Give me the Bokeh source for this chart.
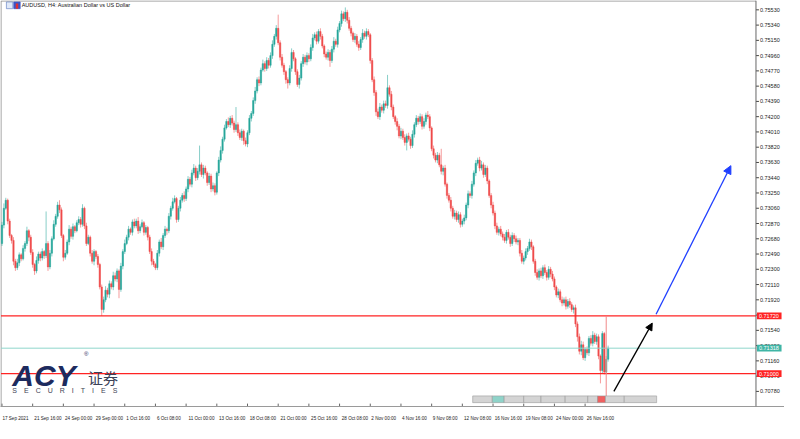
from bokeh.plotting import figure
from bokeh.models import (Range1d, FixedTicker, Span, Arrow, NormalHead, ColumnDataSource)
from bokeh.core.properties import value
from bokeh.embed import file_html
from bokeh.resources import INLINE

# ---------------- data ----------------
symbol_title = "AUDUSD, H4:  Australian Dollar vs US Dollar"
first_open = 0.7262
closes = [
    0.7285, 0.7306, 0.7316, 0.7290, 0.7272, 0.7266, 0.7240, 0.7232, 0.7238, 0.7248,
    0.7243, 0.7256, 0.7262, 0.7278, 0.7270, 0.7251, 0.7236, 0.7228, 0.7241, 0.7249,
    0.7244, 0.7252, 0.7247, 0.7262, 0.7233, 0.7250, 0.7268, 0.7286, 0.7296, 0.7310,
    0.7304, 0.7272, 0.7245, 0.7250, 0.7264, 0.7280, 0.7271, 0.7283, 0.7278, 0.7288,
    0.7292, 0.7286, 0.7306, 0.7284, 0.7262, 0.7270, 0.7250, 0.7240, 0.7252, 0.7246,
    0.7236, 0.7208, 0.7180, 0.7192, 0.7204, 0.7199, 0.7212, 0.7208, 0.7222, 0.7218,
    0.7228, 0.7205, 0.7234, 0.7252, 0.7262, 0.7270, 0.7280, 0.7276, 0.7289, 0.7284,
    0.7290, 0.7278, 0.7283, 0.7288, 0.7276, 0.7282, 0.7270, 0.7252, 0.7240, 0.7236,
    0.7232, 0.7250, 0.7264, 0.7258, 0.7272, 0.7280, 0.7278, 0.7296, 0.7306, 0.7314,
    0.7318, 0.7292, 0.7306, 0.7316, 0.7322, 0.7318, 0.7330, 0.7342, 0.7336, 0.7350,
    0.7356, 0.7344, 0.7352, 0.7360, 0.7348, 0.7356, 0.7350, 0.7338, 0.7346, 0.7330,
    0.7334, 0.7326, 0.7350, 0.7366, 0.7378, 0.7392, 0.7406, 0.7414, 0.7410, 0.7418,
    0.7412, 0.7404, 0.7410, 0.7400, 0.7394, 0.7402, 0.7390, 0.7386, 0.7400, 0.7418,
    0.7424, 0.7440, 0.7452, 0.7466, 0.7462, 0.7478, 0.7486, 0.7480, 0.7490, 0.7484,
    0.7496, 0.7510, 0.7520, 0.7530, 0.7512, 0.7494, 0.7484, 0.7476, 0.7466, 0.7462,
    0.7480, 0.7500, 0.7492, 0.7476, 0.7460, 0.7468, 0.7486, 0.7494, 0.7488, 0.7496,
    0.7492, 0.7506, 0.7518, 0.7522, 0.7514, 0.7526, 0.7520, 0.7508, 0.7498, 0.7494,
    0.7500, 0.7490, 0.7504, 0.7514, 0.7510, 0.7528, 0.7536, 0.7548, 0.7542, 0.7550,
    0.7540, 0.7530, 0.7524, 0.7516, 0.7520, 0.7510, 0.7506, 0.7516, 0.7524, 0.7520,
    0.7526, 0.7522, 0.7490, 0.7466, 0.7450, 0.7426, 0.7420, 0.7432, 0.7428, 0.7436,
    0.7434, 0.7456, 0.7448, 0.7432, 0.7420, 0.7414, 0.7408, 0.7396, 0.7402, 0.7394,
    0.7388, 0.7396, 0.7392, 0.7384, 0.7398, 0.7410, 0.7418, 0.7414, 0.7420, 0.7408,
    0.7414, 0.7422, 0.7420, 0.7406, 0.7380, 0.7372, 0.7366, 0.7372, 0.7360, 0.7352,
    0.7356, 0.7336, 0.7322, 0.7316, 0.7306, 0.7296, 0.7300, 0.7292, 0.7298, 0.7286,
    0.7290, 0.7294, 0.7310, 0.7324, 0.7322, 0.7336, 0.7350, 0.7362, 0.7366, 0.7356,
    0.7360, 0.7348, 0.7356, 0.7340, 0.7322, 0.7310, 0.7300, 0.7284, 0.7276, 0.7280,
    0.7274, 0.7270, 0.7266, 0.7276, 0.7270, 0.7262, 0.7272, 0.7268, 0.7264, 0.7266,
    0.7250, 0.7240, 0.7244, 0.7252, 0.7256, 0.7264, 0.7258, 0.7240, 0.7226, 0.7220,
    0.7228, 0.7222, 0.7232, 0.7226, 0.7220, 0.7230, 0.7224, 0.7218, 0.7208, 0.7198,
    0.7202, 0.7192, 0.7188, 0.7192, 0.7184, 0.7190, 0.7186, 0.7180, 0.7182, 0.7162,
    0.7146, 0.7128, 0.7136, 0.7120, 0.7130, 0.7126, 0.7144, 0.7138, 0.7148, 0.7140,
    0.7146, 0.7122, 0.7104, 0.7150, 0.7102, 0.7118, 0.7132,
]
wick_up_pips = [
    4, 6, 3, 2, 3, 2, 4, 3, 5, 3, 2, 4, 3, 5, 2, 3, 4, 2, 5, 3,
    3, 4, 2, 40, 3, 4, 3, 5, 3, 4, 6, 3, 2, 4, 3, 5, 3, 4, 2, 3,
    4, 3, 5, 2, 4, 3, 2, 4, 3, 2, 3, 2, 3, 4, 5, 3, 4, 3, 5, 4,
    3, 2, 4, 3, 5, 3, 4, 2, 3, 4, 3, 5, 3, 4, 2, 3, 2, 3, 4, 3,
    2, 4, 3, 5, 3, 4, 2, 4, 3, 5, 4, 2, 3, 4, 3, 5, 3, 4, 3, 4,
    5, 3, 4, 24, 3, 4, 3, 2, 4, 3, 4, 3, 2, 4, 5, 3, 4, 3, 5, 3,
    4, 3, 22, 3, 4, 3, 2, 4, 3, 4, 3, 4, 5, 3, 4, 3, 5, 3, 4, 3,
    4, 5, 3, 4, 17, 3, 4, 3, 2, 3, 4, 5, 3, 2, 3, 4, 3, 4, 3, 4,
    3, 4, 5, 3, 4, 3, 4, 3, 2, 3, 4, 3, 4, 5, 3, 4, 3, 4, 3, 6,
    3, 4, 3, 2, 4, 3, 4, 3, 5, 3, 4, 3, 2, 3, 4, 3, 4, 5, 3, 4,
    4, 16, 3, 4, 3, 2, 4, 3, 4, 3, 4, 3, 4, 3, 5, 3, 4, 3, 4, 3,
    4, 3, 5, 3, 2, 4, 3, 4, 3, 20, 3, 4, 2, 3, 4, 3, 4, 3, 4, 3,
    3, 4, 3, 4, 3, 4, 3, 4, 3, 4, 5, 3, 4, 3, 2, 3, 4, 3, 4, 3,
    4, 3, 4, 3, 4, 3, 4, 3, 4, 3, 3, 4, 3, 4, 3, 4, 3, 2, 3, 4,
    3, 4, 3, 4, 3, 4, 3, 4, 3, 2, 4, 3, 4, 3, 4, 3, 4, 3, 3, 4,
    3, 4, 5, 4, 3, 4, 3, 4, 5, 3, 4, 3, 2, 3, 2, 4, 3,
]
wick_dn_pips = [
    3, 4, 2, 4, 3, 4, 5, 4, 3, 4, 3, 2, 4, 3, 5, 3, 4, 5, 3, 4,
    4, 3, 4, 3, 5, 3, 4, 2, 3, 3, 4, 3, 5, 3, 2, 4, 3, 4, 3, 2,
    3, 4, 3, 4, 3, 2, 4, 3, 5, 3, 4, 3, 8, 4, 3, 4, 5, 3, 4, 3,
    4, 11, 3, 4, 3, 2, 4, 3, 4, 3, 3, 4, 3, 2, 4, 3, 4, 3, 5, 3,
    3, 3, 4, 3, 4, 3, 5, 3, 4, 3, 2, 4, 3, 4, 3, 4, 3, 4, 3, 4,
    3, 4, 3, 4, 3, 5, 3, 4, 3, 4, 3, 4, 3, 4, 3, 4, 3, 2, 3, 4,
    3, 4, 3, 4, 3, 4, 5, 3, 4, 3, 4, 3, 4, 3, 4, 3, 2, 4, 3, 4,
    3, 4, 3, 4, 3, 4, 3, 4, 5, 7, 3, 4, 3, 4, 3, 5, 3, 4, 3, 4,
    4, 3, 4, 3, 4, 3, 4, 3, 4, 3, 4, 8, 3, 4, 3, 4, 3, 4, 3, 4,
    4, 3, 4, 3, 4, 3, 4, 3, 4, 3, 4, 3, 4, 3, 4, 5, 3, 4, 3, 4,
    3, 4, 3, 4, 3, 4, 5, 3, 4, 3, 4, 10, 3, 4, 3, 4, 3, 4, 3, 4,
    3, 4, 3, 4, 3, 4, 3, 4, 3, 4, 5, 3, 4, 3, 4, 3, 4, 3, 4, 4,
    3, 4, 3, 4, 3, 4, 3, 4, 3, 4, 3, 4, 3, 4, 3, 4, 3, 4, 3, 4,
    3, 4, 3, 4, 3, 4, 3, 4, 3, 4, 4, 3, 4, 3, 4, 3, 4, 3, 4, 3,
    4, 3, 4, 3, 4, 3, 4, 3, 4, 3, 4, 3, 4, 3, 4, 3, 4, 3, 5, 4,
    6, 4, 5, 3, 4, 3, 4, 3, 4, 3, 4, 4, 16, 4, 3, 3, 3,
]
y_tick_values = [
    0.75530, 0.75340, 0.75150, 0.74960, 0.74770, 0.74580, 0.74390, 0.74200, 0.74010,
    0.73820, 0.73630, 0.73440, 0.73250, 0.73060, 0.72870, 0.72680, 0.72490, 0.72300,
    0.72110, 0.71920, 0.71730, 0.71540, 0.71350, 0.71160, 0.70970, 0.70780,
]
x_tick_bars = [0, 16, 32, 48, 64, 80, 96, 112, 128, 144, 160, 176, 192, 208,
               224, 240, 256, 272, 288, 304]
x_tick_labels = ["17 Sep 2021", "21 Sep 16:00", "24 Sep 00:00", "29 Sep 00:00",
                 "1 Oct 16:00", "6 Oct 08:00", "11 Oct 00:00", "13 Oct 16:00",
                 "18 Oct 08:00", "21 Oct 00:00", "25 Oct 16:00", "28 Oct 08:00",
                 "2 Nov 00:00", "4 Nov 16:00", "9 Nov 08:00", "12 Nov 08:00",
                 "16 Nov 16:00", "19 Nov 08:00", "24 Nov 00:00", "26 Nov 16:00"]
resistance_level = 0.71720
support_level = 0.71000
last_price = 0.71318
level_values = [resistance_level, last_price, support_level]
level_texts = ["0.71720", "0.71318", "0.71000"]
vline_bar = 315
arrow_black_bars = [319, 339]
arrow_black_prices = [0.7078, 0.7163]
arrow_blue_bars = [341, 380]
arrow_blue_prices = [0.7174, 0.7359]
obj_box_lefts = [245.4, 255.6, 261.8, 272.0, 281.0, 293.6, 305.4, 310.5, 314.6, 324.4]
obj_box_rights = [255.6, 261.8, 272.0, 281.0, 293.6, 305.4, 310.5, 314.6, 324.4, 341.3]
obj_box_colors = ["#d4d4d4", "#8fd3c9", "#d4d4d4", "#d4d4d4", "#d4d4d4", "#d4d4d4",
                  "#d4d4d4", "#f06060", "#d4d4d4", "#d4d4d4"]

# ---------------- geometry helpers (layout only, reference pixels -> data) ----------------
BAR_PX = 1.95
def bx(px):
    return (px - 4.5) / BAR_PX
def py(pyv):
    return 0.75530 - (pyv - 12.7) * 0.0019 / 15.864

BULL = "#26a69a"
BEAR = "#ef4b4b"
RED = "#ff2323"
FONT = "Liberation Sans"
GRID = "#8a8a8a"

n = min(len(closes), len(wick_up_pips), len(wick_dn_pips))
opens = [first_open] + closes[:n - 1]
inc = dict(x=[], top=[], bottom=[], high=[], low=[])
dec = dict(x=[], top=[], bottom=[], high=[], low=[])
for i in range(n):
    o, c = opens[i], closes[i]
    hi = max(o, c) + wick_up_pips[i] * 0.0001
    lo = min(o, c) - wick_dn_pips[i] * 0.0001
    d = inc if c >= o else dec
    d["x"].append(i)
    d["top"].append(max(o, c))
    d["bottom"].append(min(o, c))
    d["high"].append(hi)
    d["low"].append(lo)

# the frame covers chart + price scale (price scale drawn MT4-style inside)
p = figure(width=784, height=423, x_range=Range1d(bx(3), bx(800)),
           y_range=Range1d(py(425), py(3)), output_backend="svg",
           toolbar_location=None, y_axis_location=None,
           min_border_left=0, min_border_top=0, min_border_right=0, min_border_bottom=0)
p.background_fill_color = "white"
p.border_fill_color = "white"
p.outline_line_color = None
p.xgrid.visible = False
p.ygrid.visible = False

# x axis: labels start at the tick (MT4 style) -> shift centre
XFS = 4.6
xpos, xover = [], {}
for b, lab in zip(x_tick_bars, x_tick_labels):
    w = 0.5 * XFS * len(lab)
    pos = int(round(b + (w / 2 + 1.5) / BAR_PX))
    xpos.append(pos)
    xover[pos] = lab
xa = p.xaxis[0]
xa.ticker = FixedTicker(ticks=xpos)
xa.major_label_overrides = xover
xa.major_label_text_font_size = "%.1fpx" % XFS
xa.major_label_text_font = FONT
xa.major_label_text_color = "#222222"
xa.major_tick_line_color = None
xa.minor_tick_line_color = None
xa.axis_line_color = "#9a9a9a"
xa.major_label_standoff = 3

# x tick marks (MT4 style, at the start of each label)
p.segment(x0=x_tick_bars, y0=[py(425)] * len(x_tick_bars), x1=x_tick_bars,
          y1=[py(422)] * len(x_tick_bars), line_color="#666666", line_width=1)

# chart border (top, left) and price-scale line
axis_x = bx(771)
p.segment(x0=[bx(3.5), bx(3.5)], y0=[py(3.5), py(3.5)], x1=[axis_x, bx(3.5)],
          y1=[py(3.5), py(425)], line_color=GRID, line_width=1)
p.add_layout(Span(location=axis_x, dimension="height", line_color="#666666", line_width=1))

# price-scale ticks and labels
p.segment(x0=[axis_x] * len(y_tick_values), y0=y_tick_values,
          x1=[bx(774)] * len(y_tick_values), y1=y_tick_values,
          line_color="#444444", line_width=1)
p.text(x=[bx(775)] * len(y_tick_values), y=y_tick_values,
       text=["%.5f" % v for v in y_tick_values], text_font=value(FONT),
       text_font_size="5.5px", text_color="#222222", text_baseline="middle",
       text_align="left")

# candles
s_inc = ColumnDataSource(inc)
s_dec = ColumnDataSource(dec)
p.segment(x0="x", y0="low", x1="x", y1="high", source=s_inc, line_color=BULL,
          line_alpha=0.55, line_width=1)
p.segment(x0="x", y0="low", x1="x", y1="high", source=s_dec, line_color=BEAR,
          line_alpha=0.55, line_width=1)
p.vbar(x="x", width=0.7, top="top", bottom="bottom", source=s_inc,
       fill_color=BULL, line_color=BULL, line_width=0.5)
p.vbar(x="x", width=0.7, top="top", bottom="bottom", source=s_dec,
       fill_color=BEAR, line_color=BEAR, line_width=0.5)

# horizontal levels (stop at the price scale)
p.segment(x0=[bx(3.5)] * 3, y0=level_values, x1=[axis_x] * 3, y1=level_values,
          line_color=[RED, "#8fd6cc", RED], line_width=[1.3, 1, 1.3])

# vertical marker line
p.segment(x0=[vline_bar], y0=[resistance_level], x1=[vline_bar], y1=[py(420)],
          line_color="#f08a8a", line_width=1)

# object time boxes at bottom
p.quad(left=obj_box_lefts, right=obj_box_rights, top=[py(414)] * len(obj_box_lefts),
       bottom=[py(421)] * len(obj_box_lefts), fill_color=obj_box_colors,
       line_color="#9a9a9a", line_width=0.6)

# price tags on the price scale
tag_h = 0.00042
p.quad(left=[bx(772)] * 3, right=[bx(797)] * 3,
       top=[v + tag_h for v in level_values], bottom=[v - tag_h for v in level_values],
       fill_color=[RED, "#3fb5a5", RED], line_color=None)
p.text(x=[bx(774)] * 3, y=level_values, text=level_texts, text_font=value(FONT),
       text_font_size="5.5px", text_color="white", text_baseline="middle",
       text_align="left")

# arrows
p.add_layout(Arrow(end=NormalHead(size=7, fill_color="black", line_color="black"),
                   x_start=arrow_black_bars[0], y_start=arrow_black_prices[0],
                   x_end=arrow_black_bars[1], y_end=arrow_black_prices[1],
                   line_color="black", line_width=1.3))
p.add_layout(Arrow(end=NormalHead(size=8, fill_color="#1f3fff", line_color="#1f3fff"),
                   x_start=arrow_blue_bars[0], y_start=arrow_blue_prices[0],
                   x_end=arrow_blue_bars[1], y_end=arrow_blue_prices[1],
                   line_color="#1f3fff", line_width=1.3))

# title with small icons
p.quad(left=[bx(9)], right=[bx(15.5)], top=[py(4.5)], bottom=[py(11.5)],
       fill_color="#dfe8f8", line_color="#6a86c6", line_width=0.7)
p.quad(left=[bx(16.5)], right=[bx(23)], top=[py(4.5)], bottom=[py(11.5)],
       fill_color="#3b55c8", line_color="#3b55c8", line_width=0.7)
p.quad(left=[bx(18.5)], right=[bx(21)], top=[py(6)], bottom=[py(11.5)],
       fill_color="#e03030", line_color=None)
p.text(x=[bx(24.5)], y=[py(8)], text=[symbol_title], text_font=value(FONT),
       text_font_size="5.5px", text_color="#111111", text_baseline="middle")

# ACY logo
p.text(x=[bx(15)], y=[py(393)], text=["ACY"], text_font=value("Liberation Sans"),
       text_font_size="30px", text_font_style="bold italic", text_color="#1d2b5e",
       text_baseline="alphabetic")
p.text(x=[bx(88)], y=[py(370)], text=["®"], text_font=value(FONT),
       text_font_size="6px", text_color="#1d2b5e", text_baseline="middle")
p.text(x=[bx(92)], y=[py(395)], text=["证券"], text_font=value("Noto Sans CJK SC"),
       text_font_size="15px", text_color="#3c4258", text_baseline="alphabetic")
p.text(x=[bx(15)], y=[py(408)],
       text=["S\u2003E\u2003C\u2003U\u2003R\u2003I\u2003T\u2003I\u2003E\u2003S"],
       text_font=value(FONT), text_font_size="7px", text_color="#3e4254",
       text_baseline="alphabetic")

open("out.html", "w").write(file_html(p, INLINE))
